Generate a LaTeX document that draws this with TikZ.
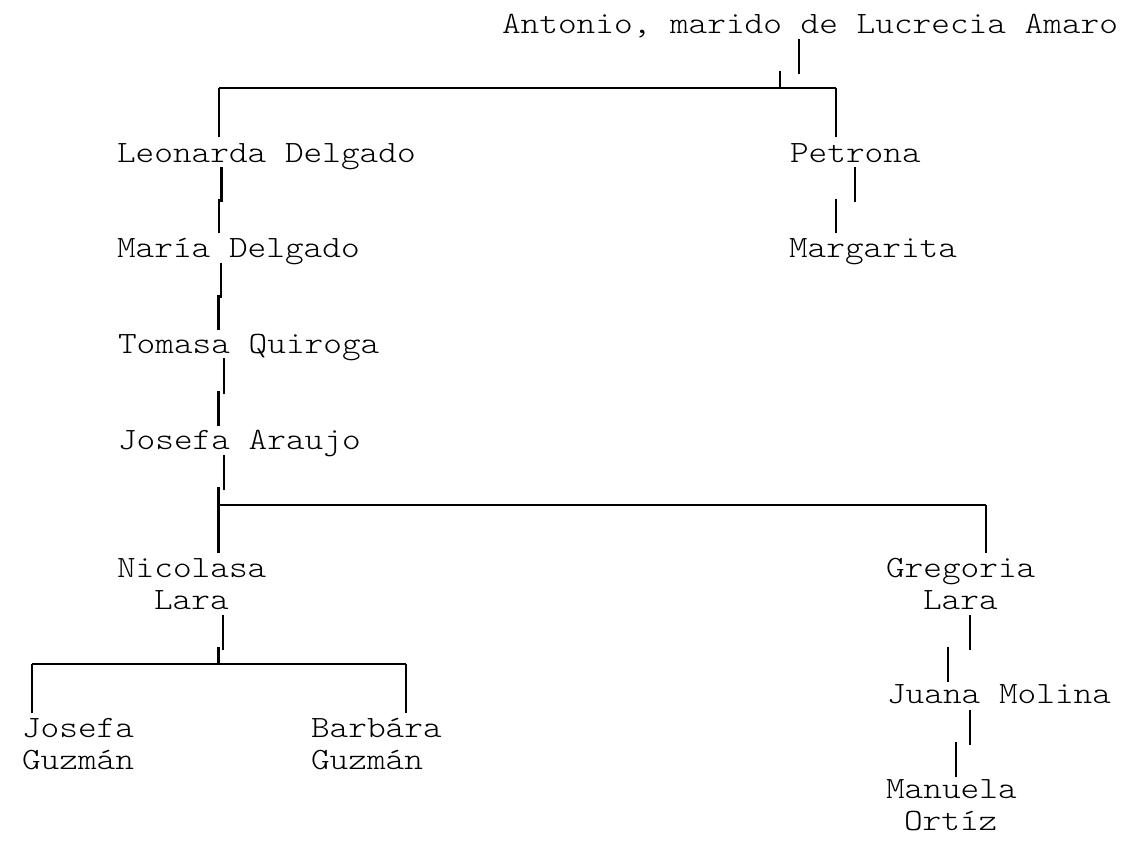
\documentclass[tikz,border=0pt]{standalone}
\usepackage{fontspec}
\newfontfamily\lmlight{lmmonolt10-regular.otf}
\newcommand\wtxt[1]{\scalebox{1.147}[1]{#1}}
\begin{document}
\begin{tikzpicture}[x=1pt,y=-1pt,
  lbl/.style={anchor=base west,inner sep=0pt,outer sep=0pt,
    font=\lmlight\fontsize{31}{32}\selectfont},
  bar/.style={line width=2.4pt,black}]
\useasboundingbox (0,0) rectangle (1122,841);
% people
\node[lbl] (antonio) at (502,33) {\wtxt{Antonio, marido de Lucrecia Amaro}};
\node[lbl] (leonarda) at (117,162) {\wtxt{Leonarda Delgado}};
\node[lbl] (petrona) at (790,162) {\wtxt{Petrona}};
\node[lbl] (maria) at (117,257) {\wtxt{María Delgado}};
\node[lbl] (margarita) at (789,257) {\wtxt{Margarita}};
\node[lbl] (tomasa) at (118,353) {\wtxt{Tomasa Quiroga}};
\node[lbl] (josefaA) at (118,449) {\wtxt{Josefa Araujo}};
\node[lbl] (nicolasa) at (117,577) {\wtxt{Nicolasa}};
\node[lbl] (nicolasaB) at (154,609) {\wtxt{Lara}};
\node[lbl] (gregoria) at (886,577) {\wtxt{Gregoria}};
\node[lbl] (gregoriaB) at (923,609) {\wtxt{Lara}};
\node[lbl] (josefaG) at (22,737) {\wtxt{Josefa}};
\node[lbl] (josefaGB) at (22,769) {\wtxt{Guzmán}};
\node[lbl] (barbara) at (311,737) {\wtxt{Barbára}};
\node[lbl] (barbaraB) at (311,769) {\wtxt{Guzmán}};
\node[lbl] (juana) at (887,703) {\wtxt{Juana Molina}};
\node[lbl] (manuela) at (886,798) {\wtxt{Manuela}};
\node[lbl] (manuelaB) at (904,830) {\wtxt{Ortíz}};
% junctions
\coordinate (j1) at (780,88);
\coordinate (j1l) at (219,88);
\coordinate (j1r) at (836,88);
\coordinate (j2) at (218.3,505);
\coordinate (j2r) at (986,505);
\coordinate (j3) at (218.3,664);
\coordinate (j3l) at (32,664);
\coordinate (j3r) at (406,664);
% Antonio
\draw[bar] (799,39) -- (799,74);
\draw[bar] (780,71) -- (j1);
\draw[bar] (j1l) -- (j1r);
\draw[bar] (j1l) -- (219,137);
\draw[bar] (j1r) -- (836,137);
% Leonarda line
\draw[bar] (221.5,167) -- (221.5,202);
\draw[bar] (219,199) -- (219,233);
\draw[bar] (220.7,263) -- (220.7,298);
\draw[bar] (218.3,295) -- (218.3,330);
\draw[bar] (223.7,358) -- (223.7,394);
\draw[bar] (218.3,391) -- (218.3,426);
\draw[bar] (223.7,455) -- (223.7,490);
\draw[bar] (218.3,487) -- (218.3,553);
% Petrona
\draw[bar] (855,167) -- (855,202);
\draw[bar] (836,199) -- (836,233);
% Josefa Araujo children
\draw[bar] (j2) -- (j2r);
\draw[bar] (j2r) -- (986,553);
% Nicolasa children
\draw[bar] (222.7,615) -- (222.7,650);
\draw[bar] (218.3,647) -- (j3);
\draw[bar] (j3l) -- (j3r);
\draw[bar] (j3l) -- (32,713);
\draw[bar] (j3r) -- (406,713);
% Gregoria line
\draw[bar] (970,615) -- (970,650);
\draw[bar] (948,647) -- (948,682);
\draw[bar] (970,710) -- (970,745);
\draw[bar] (956,742) -- (956,777);
\end{tikzpicture}
\end{document}
